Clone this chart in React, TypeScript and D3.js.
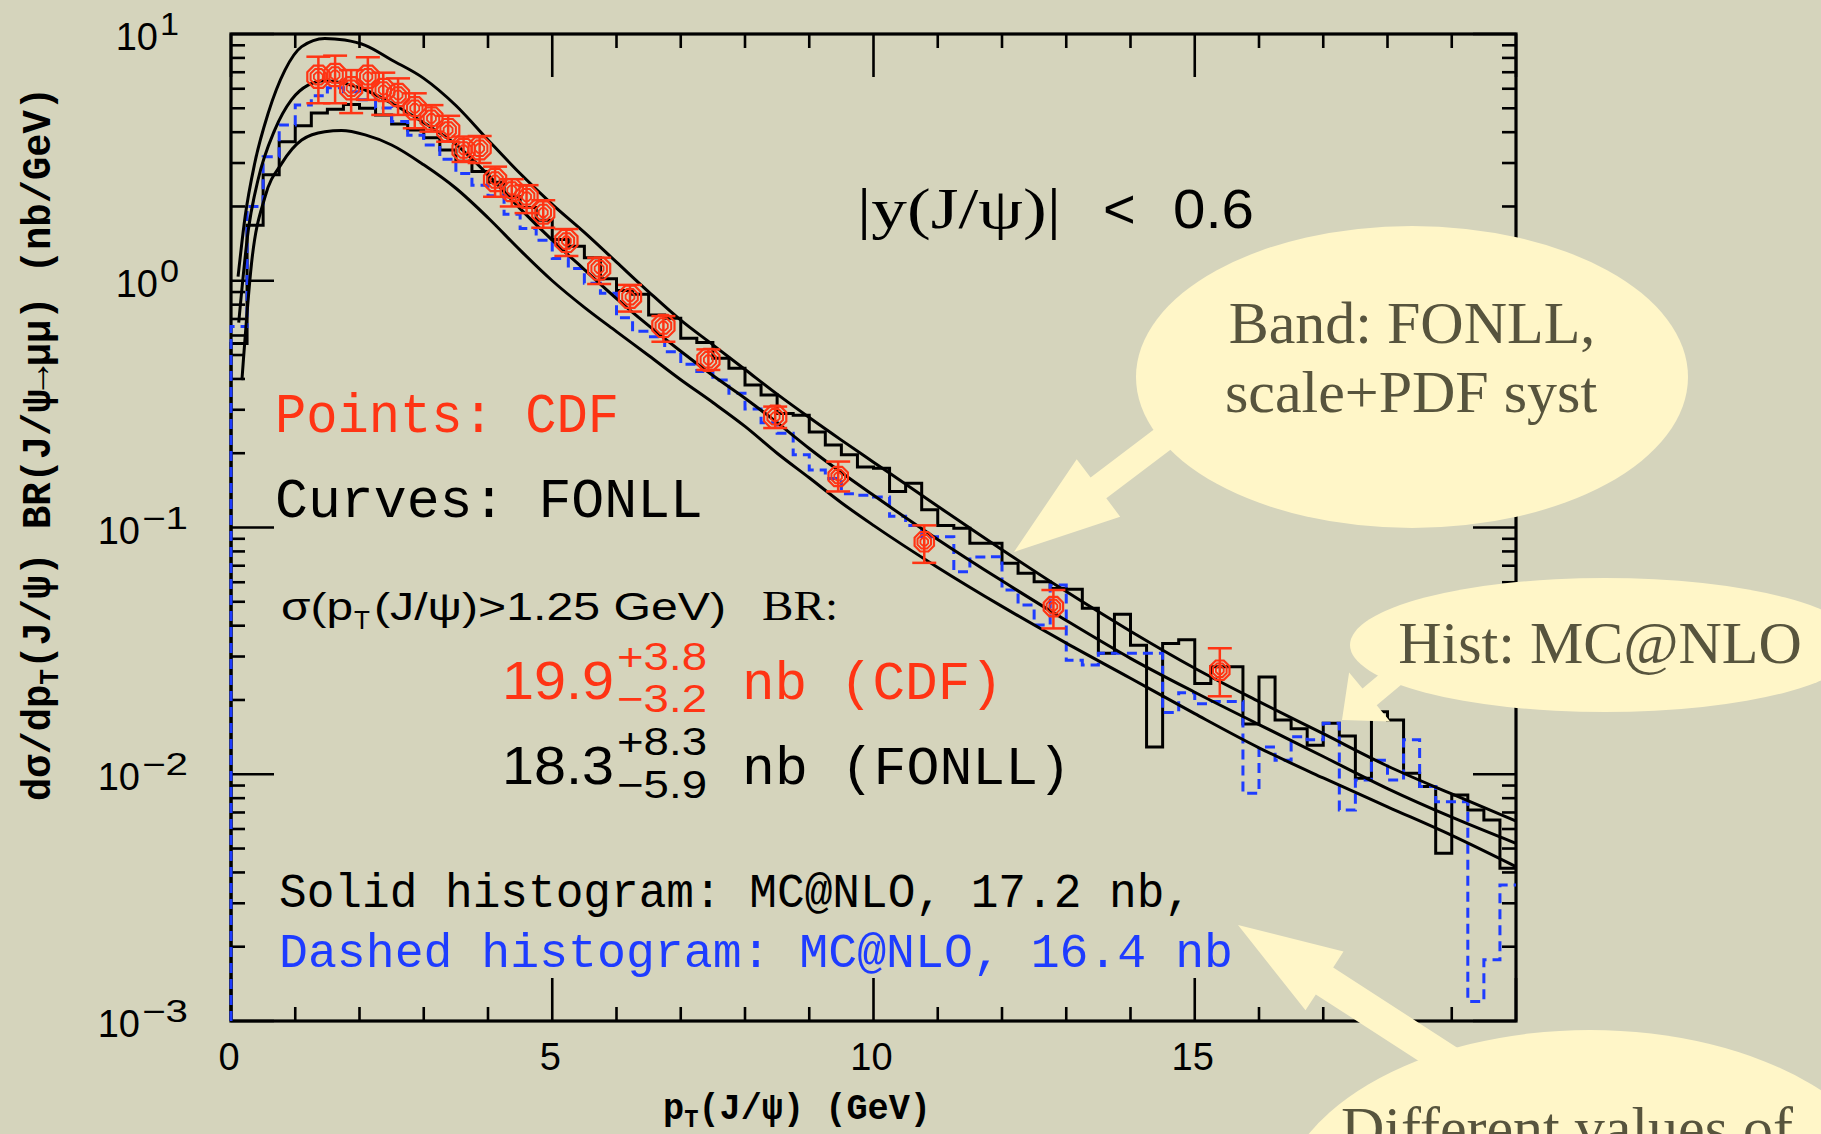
import React from 'react';
import * as d3 from 'd3';

const W = 1821;
const H = 1134;

// ---------------- data ----------------
// CDF points (pT in GeV, dsigma/dpT in nb/GeV) with error band
const cdfPt = [1.36, 1.62, 1.87, 2.13, 2.37, 2.6, 2.86, 3.12, 3.38, 3.62, 3.87, 4.11, 4.37, 4.6, 4.86, 5.22, 5.73, 6.21, 6.73, 7.43, 8.47, 9.45, 10.79, 12.8, 15.39];
const cdfVal = [6.71, 6.82, 6.03, 6.71, 5.93, 5.66, 5.0, 4.55, 4.08, 3.39, 3.44, 2.56, 2.33, 2.19, 1.89, 1.45, 1.12, 0.861, 0.656, 0.478, 0.281, 0.161, 0.0875, 0.0478, 0.0264];
const cdfHi = [8.09, 8.17, 7.14, 8.05, 6.97, 6.61, 5.75, 5.15, 4.66, 3.84, 3.86, 2.9, 2.58, 2.44, 2.12, 1.62, 1.24, 0.962, 0.719, 0.527, 0.309, 0.185, 0.102, 0.0558, 0.0324];
const cdfLo = [5.24, 5.24, 4.78, 5.41, 4.7, 4.7, 4.15, 4.02, 3.66, 3.03, 3.0, 2.19, 2.0, 1.88, 1.64, 1.26, 0.97, 0.75, 0.566, 0.435, 0.253, 0.14, 0.0719, 0.039, 0.0207];

// FONLL band curves
const fonllUpperPt = [0.11, 0.22, 0.37, 0.58, 0.84, 1.1, 1.46, 1.77, 2.09, 2.5, 3, 3.5, 4, 4.5, 5, 5.5, 6, 6.5, 7, 7.5, 8, 8.5, 9, 9.5, 10, 11, 12, 13, 14, 15, 16, 17, 18, 19, 20];
const fonllUpper = [1.04, 1.82, 3.0, 4.79, 7.14, 8.89, 9.6, 9.45, 9.0, 7.85, 6.61, 5.13, 3.72, 2.72, 2.04, 1.57, 1.19, 0.902, 0.692, 0.55, 0.437, 0.347, 0.279, 0.226, 0.184, 0.122, 0.0813, 0.055, 0.038, 0.0269, 0.0197, 0.0146, 0.0108, 0.00832, 0.00646];
const fonllCentralPt = [0.12, 0.27, 0.42, 0.68, 0.94, 1.2, 1.46, 1.72, 2.09, 2.5, 3, 3.5, 4, 4.5, 5, 5.5, 6, 6.5, 7, 7.5, 8, 8.5, 9, 9.5, 10, 11, 12, 13, 14, 15, 16, 17, 18, 19, 20];
const fonllCentral = [0.676, 1.61, 2.56, 4.08, 5.41, 6.21, 6.47, 6.35, 5.93, 5.24, 4.37, 3.57, 2.69, 1.96, 1.46, 1.11, 0.847, 0.658, 0.518, 0.413, 0.334, 0.266, 0.209, 0.167, 0.135, 0.0895, 0.0608, 0.042, 0.0295, 0.0215, 0.0159, 0.0118, 0.00875, 0.0067, 0.00525];
const fonllLowerPt = [0.17, 0.32, 0.53, 0.79, 1.1, 1.46, 1.72, 2.09, 2.5, 3, 3.5, 4, 4.5, 5, 5.5, 6, 6.5, 7, 7.5, 8, 8.5, 9, 9.5, 10, 11, 12, 13, 14, 15, 16, 17, 18, 19, 20];
const fonllLower = [0.396, 1.18, 2.19, 2.99, 3.72, 4.02, 4.06, 3.9, 3.55, 2.95, 2.37, 1.8, 1.33, 1.0, 0.78, 0.622, 0.498, 0.397, 0.321, 0.257, 0.2, 0.159, 0.126, 0.102, 0.0689, 0.0479, 0.034, 0.0245, 0.0176, 0.0128, 0.00966, 0.00738, 0.00565, 0.00422];

// MC@NLO histograms, 0.25 GeV bins from 0 to 20 GeV
const histBinWidth = 0.25;
const mcnloSolid = [
  0.557, 1.68, 2.69, 3.66, 4.25, 4.79, 4.95, 5.18, 5.0, 4.7,
  4.32, 4.08, 3.8, 3.39, 3.05, 2.77, 2.51, 2.19, 1.98, 1.76,
  1.47, 1.38, 1.24, 1.02, 0.912, 0.881, 0.726, 0.705, 0.585, 0.562,
  0.485, 0.442, 0.378, 0.344, 0.29, 0.285, 0.244, 0.216, 0.197, 0.176,
  0.174, 0.14, 0.151, 0.118, 0.102, 0.0993, 0.0863, 0.0863, 0.0716, 0.0652,
  0.0603, 0.0566, 0.0562, 0.0471, 0.0309, 0.0445, 0.0333, 0.0129, 0.0339, 0.0351,
  0.0233, 0.0273, 0.0273, 0.016, 0.0248, 0.0166, 0.0153, 0.0131, 0.0161, 0.0143,
  0.00964, 0.0179, 0.0166, 0.0101, 0.00891, 0.00479, 0.00824, 0.00716, 0.00653, 0.00416,
];
const mcnloDashed = [
  0.652, 2.0, 3.18, 4.28, 5.15, 5.62, 6.05, 5.83, 5.41, 5.01,
  4.42, 3.89, 3.55, 3.11, 2.72, 2.44, 2.21, 1.86, 1.63, 1.46,
  1.23, 1.12, 0.977, 0.889, 0.708, 0.624, 0.593, 0.515, 0.459, 0.429,
  0.396, 0.35, 0.302, 0.266, 0.241, 0.197, 0.171, 0.158, 0.137, 0.135,
  0.133, 0.111, 0.102, 0.0918, 0.0918, 0.0662, 0.0759, 0.0762, 0.0558, 0.0485,
  0.0403, 0.0585, 0.029, 0.0277, 0.0309, 0.0309, 0.0309, 0.0309, 0.0178, 0.0214,
  0.0193, 0.0197, 0.0197, 0.00838, 0.0129, 0.0114, 0.0142, 0.0138, 0.0161, 0.00716,
  0.00948, 0.0114, 0.00948, 0.0138, 0.00891, 0.00774, 0.00774, 0.0012, 0.00177, 0.00356,
];

// axis ticks
const xMajorTicks = [0, 5, 10, 15, 20];
const xTickLabels = ['0', '5', '10', '15', '20'];
const yDecades = [1e-3, 1e-2, 1e-1, 1, 10];
const yExpLabels = ['\u22123', '\u22122', '\u22121', '0', '1'];

// ---------------- styles ----------------
const SANS = "'Liberation Sans', Arial, sans-serif";
const MONO = "'Liberation Mono', 'Courier New', monospace";
const SERIF = "'Liberation Serif', 'Times New Roman', serif";
const RED = '#ff3414';
const BLUE = '#1e3cff';
const BG = '#d5d4bc';
const BUBBLE = '#fff6c8';
const BUBBLE_TEXT = '#57543d';

function arrowPath(tail: [number, number], tip: [number, number], shaftW: number, headL: number, headW: number) {
  const dx = tip[0] - tail[0];
  const dy = tip[1] - tail[1];
  const len = Math.hypot(dx, dy);
  const ux = dx / len, uy = dy / len;
  const nx = -uy, ny = ux;
  const bx = tip[0] - ux * headL, by = tip[1] - uy * headL;
  const p: [number, number][] = [
    [tail[0] + (nx * shaftW) / 2, tail[1] + (ny * shaftW) / 2],
    [bx + (nx * shaftW) / 2, by + (ny * shaftW) / 2],
    [bx + (nx * headW) / 2, by + (ny * headW) / 2],
    tip,
    [bx - (nx * headW) / 2, by - (ny * headW) / 2],
    [bx - (nx * shaftW) / 2, by - (ny * shaftW) / 2],
    [tail[0] - (nx * shaftW) / 2, tail[1] - (ny * shaftW) / 2],
  ];
  return 'M' + p.map((q) => q[0].toFixed(1) + ',' + q[1].toFixed(1)).join('L') + 'Z';
}

function octagon(cx: number, cy: number, r: number) {
  const pts: string[] = [];
  for (let k = 0; k < 8; k++) {
    const a = Math.PI / 8 + (k * Math.PI) / 4;
    pts.push((cx + r * Math.cos(a)).toFixed(1) + ',' + (cy + r * Math.sin(a)).toFixed(1));
  }
  return 'M' + pts.join('L') + 'Z';
}

export default function App() {
  const x = d3.scaleLinear().domain([0, 20]).range([231, 1516]);
  const y = d3.scaleLog().domain([1e-3, 10]).range([1021, 34]);
  const X0 = x(0), X1 = x(20), YB = y(1e-3), YT = y(10);

  const binEdges = d3.range(mcnloSolid.length).map((i) => i * histBinWidth);
  const histPath = (vals: number[]) => {
    const pts: [number, number][] = [[0, 1e-3]];
    vals.forEach((v, i) => pts.push([binEdges[i], v]));
    pts.push([20, vals[vals.length - 1]]);
    return (
      d3
        .line<[number, number]>()
        .x((d) => x(d[0]))
        .y((d) => y(d[1]))
        .curve(d3.curveStepAfter)(pts) || ''
    );
  };
  const curvePath = (xs: number[], vs: number[]) =>
    d3
      .line<number>()
      .x((_, i) => x(xs[i]))
      .y((d) => y(d))
      .curve(d3.curveMonotoneX)(vs) || '';

  const xMinor = d3.range(0, 21).filter((v) => v % 5 !== 0);
  const yMinor: number[] = [];
  for (let d = 0; d < 4; d++) {
    for (let k = 2; k <= 9; k++) yMinor.push(k * yDecades[d]);
  }

  const MAJ = 43;
  const MIN = 14;
  const tickStroke = { stroke: '#000', strokeWidth: 2.6 };

  return (
    <svg
      width={W}
      height={H}
      viewBox={`0 0 ${W} ${H}`}
      style={{ position: 'absolute', left: 0, top: 0, display: 'block' }}
    >
      <defs>
        <clipPath id="plotClip">
          <rect x={X0 - 4} y={YT - 4} width={X1 - X0 + 8} height={YB - YT + 8} />
        </clipPath>
      </defs>
      <rect x={0} y={0} width={W} height={H} fill={BG} />

      {/* ticks */}
      <g>
        {xMajorTicks.map((t) => (
          <g key={'xM' + t}>
            <line x1={x(t)} x2={x(t)} y1={YB} y2={YB - MAJ} {...tickStroke} />
            <line x1={x(t)} x2={x(t)} y1={YT} y2={YT + MAJ} {...tickStroke} />
          </g>
        ))}
        {xMinor.map((t) => (
          <g key={'xm' + t}>
            <line x1={x(t)} x2={x(t)} y1={YB} y2={YB - MIN} {...tickStroke} />
            <line x1={x(t)} x2={x(t)} y1={YT} y2={YT + MIN} {...tickStroke} />
          </g>
        ))}
        {yDecades.map((t) => (
          <g key={'yM' + t}>
            <line x1={X0} x2={X0 + MAJ} y1={y(t)} y2={y(t)} {...tickStroke} />
            <line x1={X1} x2={X1 - MAJ} y1={y(t)} y2={y(t)} {...tickStroke} />
          </g>
        ))}
        {yMinor.map((t, i) => (
          <g key={'ym' + i}>
            <line x1={X0} x2={X0 + MIN} y1={y(t)} y2={y(t)} {...tickStroke} />
            <line x1={X1} x2={X1 - MIN} y1={y(t)} y2={y(t)} {...tickStroke} />
          </g>
        ))}
      </g>
      <rect x={X0} y={YT} width={X1 - X0} height={YB - YT} fill="none" stroke="#000" strokeWidth={3.2} />

      {/* tick labels */}
      {xMajorTicks.map((t, i) => (
        <text key={'xl' + t} x={x(t) - 2} y={1070} textAnchor="middle" fontFamily={SANS} fontSize={38} fill="#000">
          {xTickLabels[i]}
        </text>
      ))}
      {yDecades.map((t, i) => {
        const neg = t < 1;
        const yy = y(t);
        return (
          <g key={'yl' + i}>
            <text x={neg ? 140 : 158} y={yy + 16} textAnchor="end" fontFamily={SANS} fontSize={38} fill="#000">
              10
            </text>
            <text
              x={neg ? 142 : 160}
              y={yy + 1}
              fontFamily={SANS}
              fontSize={31}
              fill="#000"
              textLength={neg ? 46 : 19}
              lengthAdjust="spacingAndGlyphs"
            >
              {yExpLabels[i]}
            </text>
          </g>
        );
      })}

      {/* axis titles */}
      <text
        transform="translate(50,444) rotate(-90)"
        textAnchor="middle"
        fontFamily={MONO}
        fontWeight="bold"
        fontSize={41}
        fill="#000"
        textLength={714}
        lengthAdjust="spacingAndGlyphs"
      >
        d{'\u03c3'}/dp
        <tspan fontSize={28} dy={8}>T</tspan>
        <tspan dy={-8}>(J/{'\u03c8'}) BR(J/{'\u03c8\u2192\u03bc\u03bc'}) (nb/GeV)</tspan>
      </text>
      <text
        x={797}
        y={1119}
        textAnchor="middle"
        fontFamily={MONO}
        fontWeight="bold"
        fontSize={37}
        fill="#000"
        textLength={268}
        lengthAdjust="spacingAndGlyphs"
      >
        p
        <tspan fontSize={25} dy={8}>T</tspan>
        <tspan dy={-8}>(J/{'\u03c8'}) (GeV)</tspan>
      </text>

      {/* histograms and curves */}
      <g clipPath="url(#plotClip)">
        <path d={histPath(mcnloSolid)} fill="none" stroke="#000" strokeWidth={3} strokeLinejoin="miter" />
        <path d={histPath(mcnloDashed)} fill="none" stroke={BLUE} strokeWidth={3} strokeDasharray="10 6" />
        <path d={curvePath(fonllUpperPt, fonllUpper)} fill="none" stroke="#000" strokeWidth={3} />
        <path d={curvePath(fonllCentralPt, fonllCentral)} fill="none" stroke="#000" strokeWidth={3} />
        <path d={curvePath(fonllLowerPt, fonllLower)} fill="none" stroke="#000" strokeWidth={3} />
      </g>

      {/* CDF points */}
      <g>
        {cdfPt.map((p, i) => {
          const cx = x(p);
          const cy = y(cdfVal[i]);
          const yh = y(cdfHi[i]);
          const yl = y(cdfLo[i]);
          const big = p < 9;
          const r = big ? 12 : 10.5;
          return (
            <g key={'pt' + i} stroke={RED} fill="none">
              <line x1={cx} x2={cx} y1={yh} y2={yl} strokeWidth={2.5} />
              <line x1={cx - 12} x2={cx + 12} y1={yh} y2={yh} strokeWidth={2.5} />
              <line x1={cx - 12} x2={cx + 12} y1={yl} y2={yl} strokeWidth={2.5} />
              <path d={octagon(cx, cy, r)} strokeWidth={2.2} />
              <path d={octagon(cx, cy, r * 0.7)} strokeWidth={2} />
              <path d={octagon(cx, cy, r * 0.4)} strokeWidth={1.8} />
            </g>
          );
        })}
      </g>

      {/* annotations inside plot */}
      <text x={857} y={228} fontFamily={SERIF} fontSize={56} fill="#000" textLength={204} lengthAdjust="spacingAndGlyphs">
        |y(J/{'\u03c8'})|
      </text>
      <text x={1103} y={228} fontFamily={SANS} fontSize={56} fill="#000">
        &lt;
      </text>
      <text x={1173} y={228} fontFamily={SANS} fontSize={56} fill="#000" textLength={81} lengthAdjust="spacingAndGlyphs">
        0.6
      </text>

      <text x={275} y={432} fontFamily={MONO} fontSize={56} fill={RED} textLength={344} lengthAdjust="spacingAndGlyphs">
        Points: CDF
      </text>
      <text x={275} y={517} fontFamily={MONO} fontSize={56} fill="#000" textLength={428} lengthAdjust="spacingAndGlyphs">
        Curves: FONLL
      </text>

      <text x={281} y={620} fontFamily={SANS} fontSize={39} fill="#000" textLength={72} lengthAdjust="spacingAndGlyphs">
        {'\u03c3'}(p
      </text>
      <text x={354} y={629} fontFamily={SANS} fontSize={26} fill="#000">
        T
      </text>
      <text x={374} y={620} fontFamily={SANS} fontSize={39} fill="#000" textLength={352} lengthAdjust="spacingAndGlyphs">
        (J/{'\u03c8'})&gt;1.25 GeV)
      </text>
      <text x={762} y={620} fontFamily={SERIF} fontSize={42} fill="#000" textLength={76} lengthAdjust="spacingAndGlyphs">
        BR:
      </text>

      <text x={502} y={699} fontFamily={SANS} fontSize={54} fill={RED} textLength={112} lengthAdjust="spacingAndGlyphs">
        19.9
      </text>
      <text x={617} y={670} fontFamily={SANS} fontSize={38} fill={RED} textLength={90} lengthAdjust="spacingAndGlyphs">
        +3.8
      </text>
      <text x={617} y={712} fontFamily={SANS} fontSize={38} fill={RED} textLength={90} lengthAdjust="spacingAndGlyphs">
        {'\u2212'}3.2
      </text>
      <text x={742} y={699} fontFamily={MONO} fontSize={54} fill={RED} textLength={261} lengthAdjust="spacingAndGlyphs">
        nb (CDF)
      </text>

      <text x={502} y={784} fontFamily={SANS} fontSize={54} fill="#000" textLength={112} lengthAdjust="spacingAndGlyphs">
        18.3
      </text>
      <text x={617} y={755} fontFamily={SANS} fontSize={38} fill="#000" textLength={90} lengthAdjust="spacingAndGlyphs">
        +8.3
      </text>
      <text x={617} y={798} fontFamily={SANS} fontSize={38} fill="#000" textLength={90} lengthAdjust="spacingAndGlyphs">
        {'\u2212'}5.9
      </text>
      <text x={742} y={784} fontFamily={MONO} fontSize={54} fill="#000" textLength={329} lengthAdjust="spacingAndGlyphs">
        nb (FONLL)
      </text>

      <text x={279} y={907} fontFamily={MONO} fontSize={48} fill="#000" textLength={913} lengthAdjust="spacingAndGlyphs">
        Solid histogram: MC@NLO, 17.2 nb,
      </text>
      <text x={279} y={967} fontFamily={MONO} fontSize={48} fill={BLUE} textLength={954} lengthAdjust="spacingAndGlyphs">
        Dashed histogram: MC@NLO, 16.4 nb
      </text>

      {/* callout bubbles */}
      <g fill={BUBBLE}>
        <path d={arrowPath([1237, 383], [1014, 552], 26, 106, 72)} />
        <ellipse cx={1412} cy={377} rx={276} ry={151} />
        <path d={arrowPath([1434, 643], [1342, 720], 22, 36, 64)} />
        <ellipse cx={1605} cy={645} rx={255} ry={67} />
        <path d={arrowPath([1490, 1088], [1238, 925], 32, 103, 70)} />
        <ellipse cx={1590} cy={1215} rx={313} ry={185} />
      </g>
      <g fontFamily={SERIF} fontSize={60} fill={BUBBLE_TEXT}>
        <text x={1412} y={343} textAnchor="middle">Band: FONLL,</text>
        <text x={1411} y={412} textAnchor="middle">scale+PDF syst</text>
        <text x={1600} y={663} textAnchor="middle">Hist: MC@NLO</text>
        <text x={1341} y={1148}>Different values of</text>
      </g>
    </svg>
  );
}
